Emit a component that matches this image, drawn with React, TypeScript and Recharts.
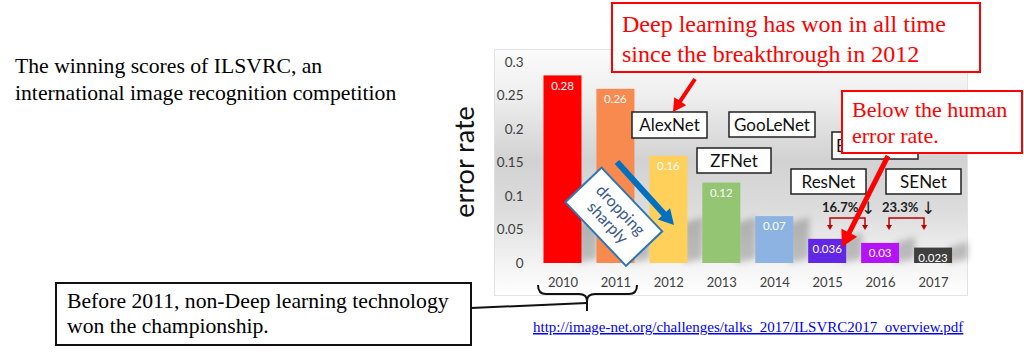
import { Bar, BarChart, Cell, LabelList, XAxis, YAxis } from 'recharts';

const years = ['2010', '2011', '2012', '2013', '2014', '2015', '2016', '2017'];
const errorRates = [0.28, 0.26, 0.16, 0.12, 0.07, 0.036, 0.03, 0.023];
const yTicks = [0, 0.05, 0.1, 0.15, 0.2, 0.25, 0.3];
const barColors = ['#ff0000', '#f8894f', '#ffd05a', '#93c572', '#8db3e2', '#6126e6', '#b313f5', '#3f3f3f'];

const chartData = years.map((year, i) => ({ year, rate: errorRates[i] }));

const SERIF = '"Liberation Serif", "Times New Roman", serif';
const SANS = 'Lato, "Open Sans", sans-serif';

function Arrow({ x1, y1, x2, y2, w, head, color }: { x1: number; y1: number; x2: number; y2: number; w: number; head: number; color: string }) {
    const dx = x2 - x1;
    const dy = y2 - y1;
    const len = Math.sqrt(dx * dx + dy * dy);
    const ux = dx / len;
    const uy = dy / len;
    const px = -uy;
    const py = ux;
    const bx = x2 - ux * head;
    const by = y2 - uy * head;
    const hw = head * 0.55;
    const pts = [
        [x1 + (px * w) / 2, y1 + (py * w) / 2],
        [bx + (px * w) / 2, by + (py * w) / 2],
        [bx + px * hw, by + py * hw],
        [x2, y2],
        [bx - px * hw, by - py * hw],
        [bx - (px * w) / 2, by - (py * w) / 2],
        [x1 - (px * w) / 2, y1 - (py * w) / 2],
    ];
    return <polygon points={pts.map((p) => p.join(',')).join(' ')} fill={color} />;
}

// bar with a soft cast shadow behind it, like the original slide
function ShadowBar(props: any) {
    const { x, y, width, height, fill } = props;
    const base = y + height;
    const s = Math.min(height, 40);
    const right = x + width;
    return (
        <g>
            <defs>
                <filter id="barShadowBlur" x="-50%" y="-50%" width="200%" height="200%">
                    <feGaussianBlur stdDeviation="3" />
                </filter>
            </defs>
            <polygon
                points={`${right - 4},${base} ${right - 4},${base - s} ${right + 16},${base - s - 6} ${right + 16},${base - 4}`}
                fill="rgba(0,0,0,0.22)"
                filter="url(#barShadowBlur)"
            />
            <rect x={x} y={y} width={width} height={height} fill={fill} />
        </g>
    );
}

function NetBox({ x, y, w, h, label, anchorLeft }: { x: number; y: number; w: number; h: number; label: string; anchorLeft?: boolean }) {
    return (
        <g>
            <rect x={x} y={y} width={w} height={h} fill="#fff" stroke="#222" strokeWidth={1.5} />
            <text
                x={anchorLeft ? x + 4 : x + w / 2}
                y={y + h / 2 + 6}
                textAnchor={anchorLeft ? 'start' : 'middle'}
                fontFamily={SANS}
                fontSize={17}
                fill="#111"
            >
                {label}
            </text>
        </g>
    );
}

function Bracket({ x1, x2 }: { x1: number; x2: number }) {
    const c = '#c00000';
    return (
        <g>
            <path d={`M${x1} 226 V218 H${x2} V226`} fill="none" stroke={c} strokeWidth={1.5} />
            <polygon points={`${x1 - 3},225 ${x1 + 3},225 ${x1},230`} fill={c} />
            <polygon points={`${x2 - 3},225 ${x2 + 3},225 ${x2},230`} fill={c} />
        </g>
    );
}

export default function App() {
    return (
        <div style={{ position: 'fixed', left: 0, top: 0, width: 1024, height: 353, background: '#fff', overflow: 'hidden' }}>
            <div
                style={{
                    position: 'absolute',
                    left: 494,
                    top: 49,
                    width: 472,
                    height: 245,
                    border: '1px solid #e2e2e2',
                    background: 'linear-gradient(to bottom, #fbfbfb 0%, #efefef 18%, #d2d2d2 45%, #dcdcdc 65%, #f1f1f1 85%, #ffffff 100%)',
                }}
            />
            <div style={{ position: 'absolute', left: 480, top: 40 }}>
                <BarChart width={500} height={260} data={chartData} margin={{ top: 22, right: 20, bottom: 0, left: 0 }}>
                    <XAxis
                        dataKey="year"
                        axisLine={false}
                        tickLine={false}
                        tickSize={0}
                        tickMargin={15}
                        height={37}
                        interval={0}
                        tick={{ fontFamily: SANS, fontSize: 13, fill: '#404040' }}
                    />
                    <YAxis
                        domain={[0, 0.3]}
                        ticks={yTicks}
                        axisLine={false}
                        tickLine={false}
                        tickSize={0}
                        tickMargin={13}
                        width={56.5}
                        tickFormatter={(v) => String(v)}
                        tick={{ fontFamily: SANS, fontSize: 13.5, fill: '#404040' }}
                    />
                    <Bar dataKey="rate" barSize={38} isAnimationActive={false} shape={ShadowBar}>
                        {chartData.map((d, i) => (
                            <Cell key={d.year} fill={barColors[i]} />
                        ))}
                        <LabelList dataKey="rate" position="insideTop" offset={6} fill="#fff" fontSize={11.5} fontFamily={SANS} />
                    </Bar>
                </BarChart>
            </div>
            <svg width={1024} height={353} style={{ position: 'absolute', left: 0, top: 0, pointerEvents: 'none' }}>
                <text
                    transform="translate(474 162) rotate(-90)"
                    textAnchor="middle"
                    fontFamily={SANS}
                    fontSize={27}
                    fill="#111"
                >
                    error rate
                </text>

                <text fontFamily={SERIF} fontSize={21.7} fill="#000">
                    <tspan x={15} y={73}>The winning scores of ILSVRC, an</tspan>
                    <tspan x={15} y={100}>international image recognition competition</tspan>
                </text>

                <rect x={612} y={3} width={368} height={69} fill="#fff" stroke="#ff0000" strokeWidth={2} />
                <text fontFamily={SERIF} fontSize={24} fill="#ff0000">
                    <tspan x={622} y={32}>Deep learning has won in all time</tspan>
                    <tspan x={622} y={62}>since the breakthrough in 2012</tspan>
                </text>

                <NetBox x={632} y={112} w={75} h={26} label="AlexNet" />
                <NetBox x={729} y={112} w={86} h={25} label="GooLeNet" />
                <NetBox x={697} y={148} w={74} h={25} label="ZFNet" />
                <NetBox x={832} y={132} w={86} h={27} label="B" anchorLeft />
                <NetBox x={791} y={169} w={75} h={25} label="ResNet" />
                <NetBox x={886} y={169} w={75} h={25} label="SENet" />

                <text x={822} y={212} fontFamily={SANS} fontSize={13} fontWeight={700} fill="#222">16.7%</text>
                <text x={868} y={214} textAnchor="middle" fontFamily="DejaVu Sans" fontSize={17} fill="#222">↓</text>
                <text x={882} y={212} fontFamily={SANS} fontSize={13} fontWeight={700} fill="#222">23.3%</text>
                <text x={928} y={214} textAnchor="middle" fontFamily="DejaVu Sans" fontSize={17} fill="#222">↓</text>
                <Bracket x1={830} x2={865} />
                <Bracket x1={889} x2={924} />

                <rect x={842} y={91} width={180} height={62} fill="#fff" stroke="#ff0000" strokeWidth={2} />
                <text fontFamily={SERIF} fontSize={22} fill="#ff0000">
                    <tspan x={852} y={117}>Below the human</tspan>
                    <tspan x={852} y={143}>error rate.</tspan>
                </text>

                <Arrow x1={695} y1={79} x2={673} y2={112} w={4} head={13} color="#ff0000" />
                <Arrow x1={888} y1={156} x2={842} y2={247} w={5} head={16} color="#ff0000" />
                <Arrow x1={617} y1={162} x2={674} y2={225} w={6} head={15} color="#0070c0" />

                <g transform="translate(613.75 216.75) rotate(46.4)">
                    <rect x={-44} y={-25} width={88} height={50} fill="#fff" stroke="#2e75b6" strokeWidth={2} />
                    <text textAnchor="middle" fontFamily={SANS} fontSize={16} fill="#3a5a8c">
                        <tspan x={0} y={-4}>dropping</tspan>
                        <tspan x={0} y={14}>sharply</tspan>
                    </text>
                </g>

                <path
                    d="M538 285 Q538 294 546 294 H579 Q587 294 587 301 Q587 294 595 294 H629 Q637 294 637 285"
                    fill="none"
                    stroke="#111"
                    strokeWidth={2}
                />
                <line x1={587} y1={300} x2={587} y2={311} stroke="#111" strokeWidth={2} />
                <line x1={471} y1={308} x2={587} y2={303} stroke="#111" strokeWidth={2} />

                <rect x={56} y={283} width={415} height={62} fill="#fff" stroke="#111" strokeWidth={2} />
                <text fontFamily={SERIF} fontSize={21.7} fill="#000">
                    <tspan x={67} y={308}>Before 2011, non-Deep learning technology</tspan>
                    <tspan x={67} y={333}>won the championship.</tspan>
                </text>

                <text x={533} y={332} fontFamily={SERIF} fontSize={15} fill="#0000ee" textDecoration="underline">
                    http://image-net.org/challenges/talks_2017/ILSVRC2017_overview.pdf
                </text>
            </svg>
        </div>
    );
}
